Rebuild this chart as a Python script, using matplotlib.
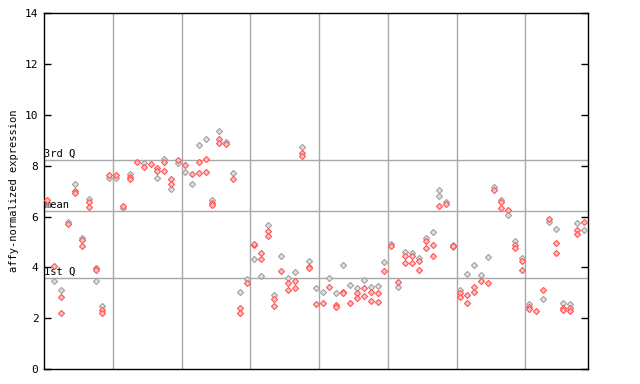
import numpy as np
import matplotlib
matplotlib.use("Agg")
import matplotlib.pyplot as plt

# valeurs, une liste par échantillon (colonne)
gray_pts = [
    [], [3.45], [3.09], [5.80], [7.27], [5.16], [6.71], [3.45], [2.48], [7.52],
    [7.52], [6.32], [7.69], [], [8.09], [], [7.50], [8.28], [7.09], [8.10],
    [7.77], [7.30], [8.80], [9.07], [6.65], [9.36], [8.95], [7.72], [3.02], [3.53],
    [4.33], [3.65], [5.65], [2.91], [4.43], [3.60], [3.80], [8.73], [4.27], [3.17],
    [3.02], [3.57], [2.98], [4.08], [3.29], [3.17], [3.49], [3.21], [3.25], [4.20],
    [4.92], [3.21], [4.61], [4.55], [4.38], [5.16], [5.38], [7.04, 6.79], [6.58], [4.90, 4.80],
    [3.11], [3.72], [4.08], [3.70], [4.40], [7.17], [6.67], [6.06], [5.03], [4.35],
    [2.56], [], [2.74], [5.78], [5.50], [2.61], [2.56], [5.73], [5.47],
]
red_pts = [
    [6.67], [4.05], [2.82, 2.21], [5.70], [7.00, 6.92], [5.08, 4.84], [6.58, 6.38], [3.96, 3.90], [2.32, 2.21], [7.63],
    [7.63], [6.41], [7.56, 7.47], [8.15], [7.96], [8.05], [7.92, 7.79], [8.15, 7.81], [7.46, 7.27], [8.22],
    [8.02], [7.66], [8.13, 7.71], [8.28, 7.77], [6.55, 6.47], [9.07, 8.91], [8.85], [7.48], [2.39, 2.19], [3.37],
    [4.88, 4.92], [4.55, 4.33], [5.44, 5.22], [2.74, 2.47], [3.85], [3.39, 3.09], [3.45, 3.17], [8.51, 8.38], [4.02, 3.97], [2.56],
    [2.58], [3.21], [2.52, 2.43], [3.04, 2.98], [2.61], [2.98, 2.78], [3.17, 2.86], [3.02, 2.66], [2.98, 2.62], [3.85],
    [4.84], [3.42], [4.44, 4.16], [4.44, 4.18], [4.27, 3.88], [5.05, 4.75], [4.90, 4.44], [6.40], [6.50], [4.85],
    [3.00, 2.85], [2.91, 2.58], [3.21, 3.02], [3.46], [3.39], [7.04], [6.58, 6.32], [6.25], [4.90, 4.77], [4.27, 3.88],
    [2.45, 2.35], [2.29], [3.11], [5.89], [4.94, 4.55], [2.40, 2.32], [2.39, 2.28], [5.47, 5.31], [5.79],
]

# séparations entre groupes d'échantillons
group_edges = [9.5, 19.5, 29.5, 39.5, 49.5, 59.5, 69.5]

# lignes de référence
stat_labels = ["3rd Q", "mean", "1st Q"]
stat_values = [8.21, 6.20, 3.60]

y_ticks = [0, 2, 4, 6, 8, 10, 12, 14]

mono = "DejaVu Sans Mono"

fig = plt.figure(figsize=(6.4, 3.84), dpi=100)
ax = fig.add_axes([0.06875, 0.039, 0.85, 0.9265])

for xe in group_edges:
    ax.axvline(xe, color="#a8a8a8", lw=1, zorder=1)
for lab, v in zip(stat_labels, stat_values):
    ax.axhline(v, color="#a8a8a8", lw=1, zorder=1)
    ax.text(-0.45, v + 0.05, lab, fontsize=7.5, family=mono, va="bottom", ha="left", zorder=2)

gx = [i for i, vals in enumerate(gray_pts) for _ in vals]
gy = [v for vals in gray_pts for v in vals]
rx = [i for i, vals in enumerate(red_pts) for _ in vals]
ry = [v for vals in red_pts for v in vals]

ax.plot(gx, gy, linestyle="none", marker="D", markersize=3.1,
        markerfacecolor="#e0e0e0", markeredgecolor="#a0a0a0", markeredgewidth=0.8, zorder=3)
ax.plot(rx, ry, linestyle="none", marker="D", markersize=3.1,
        markerfacecolor="#ffc0c0", markeredgecolor="#ff5555", markeredgewidth=0.8, zorder=4)

ax.set_xlim(-0.5, 78.6)
ax.set_ylim(0, 14)
ax.set_xticks([])
ax.set_yticks(y_ticks)
ax.set_yticklabels([str(t) for t in y_ticks], family=mono, fontsize=8)
ax.tick_params(axis="y", direction="in", length=5, width=1, right=True, pad=4)
for s in ax.spines.values():
    s.set_color("black")
    s.set_linewidth(1)
ax.set_ylabel("affy-normalized expression", family=mono, fontsize=7.5, labelpad=4)

fig.savefig("out.png", dpi=100)
